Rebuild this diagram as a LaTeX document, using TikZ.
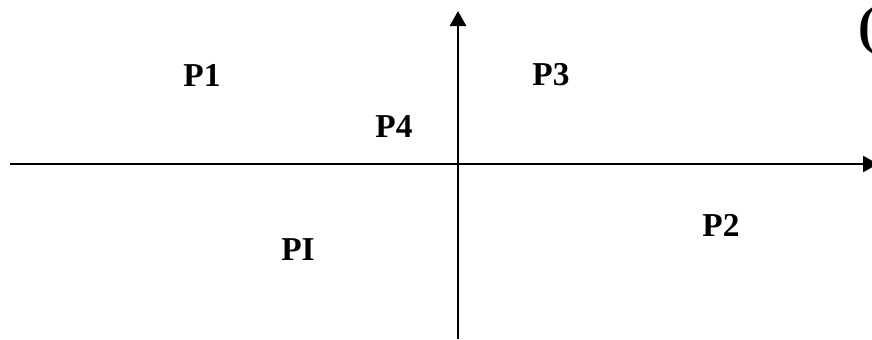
\documentclass[tikz,border=0pt]{standalone}
\usepackage{fontspec}
\setmainfont{Liberation Serif}
\usetikzlibrary{arrows.meta}
\definecolor{axisclr}{RGB}{0,0,0}
\definecolor{lblclr}{RGB}{0,0,0}
\tikzset{
  axisline/.style={-{Triangle[length=0.3cm,width=0.32cm]},line width=1.5pt,color=axisclr},
  plbl/.style={font=\fontsize{19}{22}\selectfont\bfseries,text=lblclr,inner sep=0pt},
  bigparen/.style={font=\fontsize{30}{34}\selectfont\bfseries,text=lblclr,inner sep=0pt,anchor=west},
}

\begin{document}
\begin{tikzpicture}[x=0.02cm,y=-0.02cm]
  \useasboundingbox (0,0) rectangle (872,339);
  \clip (0,0) rectangle (872,339);
  % axes
  \coordinate (xl) at (10,164);
  \coordinate (xr) at (878,164);
  \coordinate (yb) at (458,339);
  \coordinate (yt) at (458,11);
  \draw[axisline] (xl) -- (xr);
  \draw[axisline] (yb) -- (yt);
  % labels
  \node[plbl] (p1) at (202,75) {P1};
  \node[plbl] (p3) at (551,75) {P3};
  \node[plbl] (p4) at (394,127) {P4};
  \node[plbl] (p2) at (721,225) {P2};
  \node[plbl] (pI) at (298,250) {PI};
  % clipped paren
  \node[bigparen] (paren) at (858,31) {(};
\end{tikzpicture}
\end{document}
